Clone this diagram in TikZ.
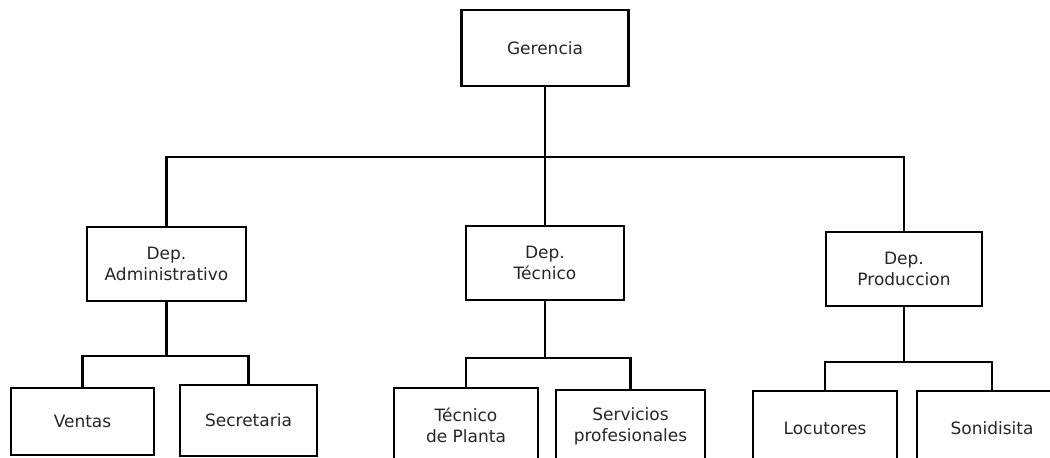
\documentclass[tikz,border=0pt]{standalone}
\usepackage{fontspec}
\setmainfont{DejaVu Sans}
\begin{document}
\begin{tikzpicture}[x=1pt,y=-1pt,
  box/.style={draw=black, line width=2.9pt, fill=white, rectangle, inner sep=0pt,
    align=center, text=black!85, font=\fontsize{17}{21}\selectfont},
  link/.style={draw=black, line width=2.4pt}]
\useasboundingbox (0,0) rectangle (1050,458);
\clip (0,0) rectangle (1050,458);
% nodes
\node[box, minimum width=167pt, minimum height=76pt] (G) at (545,48) {Gerencia};
\node[box, minimum width=159pt, minimum height=74pt] (A) at (166.5,264) {Dep.\\Administrativo};
\node[box, minimum width=158pt, minimum height=74pt] (T) at (545,263) {Dep.\\Técnico};
\node[box, minimum width=156pt, minimum height=74pt] (P) at (904,269) {Dep.\\Produccion};
\node[box, minimum width=143pt, minimum height=67pt] (V) at (82.5,421.5) {Ventas};
\node[box, minimum width=137pt, minimum height=71pt] (S) at (248.5,420.5) {Secretaria};
\node[box, minimum width=144pt, minimum height=74pt] (TP) at (466,425) {Técnico\\de Planta};
\node[box, minimum width=149pt, minimum height=72pt] (SP) at (630.5,426) {Servicios\\profesionales};
\node[box, minimum width=144pt, minimum height=74pt] (L) at (825,428) {Locutores};
\node[box, minimum width=150pt, minimum height=74pt] (SO) at (992,428) {Sonidisita};
% bus points
\coordinate (b0) at (545,157);
\coordinate (b1) at (166.5,356);
\coordinate (b2) at (545,358);
\coordinate (b3) at (904,362);
% connectors
\draw[link] (G.south) -- (T.north);
\draw[link] (A.north) |- (b0) -| (P.north);
\draw[link] (A.south) -- (b1);
\draw[link] (V.north) |- (b1) -| (S.north);
\draw[link] (T.south) -- (b2);
\draw[link] (TP.north) |- (b2) -| (SP.north);
\draw[link] (P.south) -- (b3);
\draw[link] (L.north) |- (b3) -| (SO.north);
\end{tikzpicture}
\end{document}
